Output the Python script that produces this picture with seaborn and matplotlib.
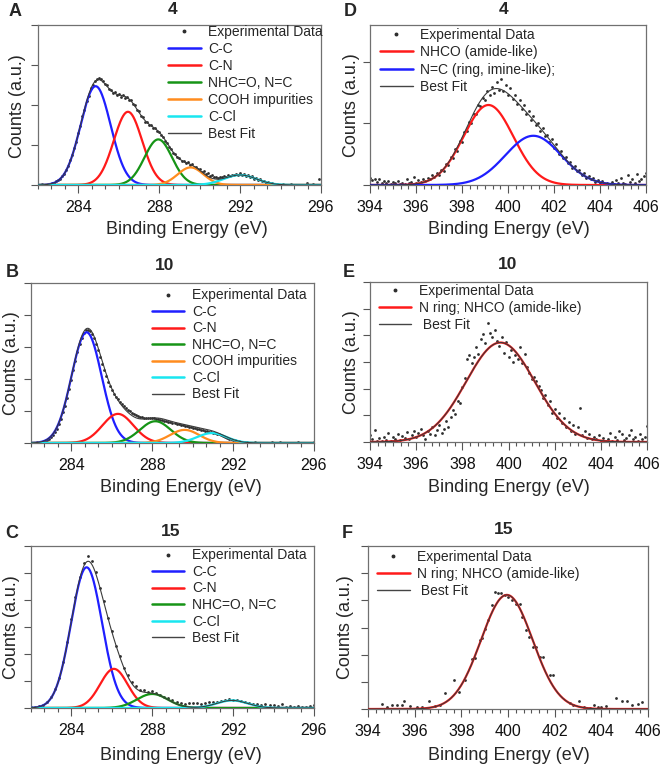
import numpy as np
import matplotlib
matplotlib.use("Agg")
import matplotlib.pyplot as plt
from matplotlib.ticker import MultipleLocator
from matplotlib.lines import Line2D
import seaborn as sns

sns.set_theme(style="white")
plt.rcParams['font.family'] = ['Liberation Sans', 'DejaVu Sans']

W, H = 664, 767
fig = plt.figure(figsize=(W / 100, H / 100), dpi=100)

BLUE, RED, GREEN, ORANGE, CYAN = "#1f1fff", "#ff1a1a", "#169416", "#ff8c1e", "#19e6f0"
FIT, DOT = "#3a3a3a", "#2e2e2e"

# ---------------- peak fit parameters ----------------
A_labels = ["C-C", "C-N", "NHC=O, N=C", "COOH impurities", "C-Cl"]
A_centers = [284.85, 286.45, 287.95, 289.55, 292.0]
A_heights = [2.47, 1.83, 1.14, 0.44, 0.25]
A_fwhm = [1.75, 1.65, 1.6, 1.5, 1.9]

B_labels = ["C-C", "C-N", "NHC=O, N=C", "COOH impurities", "C-Cl"]
B_centers = [284.75, 286.3, 288.15, 289.6, 290.95]
B_heights = [3.46, 0.91, 0.68, 0.41, 0.31]
B_fwhm = [1.75, 1.8, 1.8, 1.7, 1.7]

C_labels = ["C-C", "C-N", "NHC=O, N=C", "C-Cl"]
C_centers = [284.75, 286.1, 288.0, 291.95]
C_heights = [5.21, 1.45, 0.52, 0.28]
C_fwhm = [1.8, 1.6, 1.8, 1.8]

D_labels = ["NHCO (amide-like)", "N=C (ring, imine-like);"]
D_centers = [399.15, 401.1]
D_heights = [1.30, 0.80]
D_fwhm = [2.55, 2.85]

E_labels = ["N ring; NHCO (amide-like)"]
E_centers = [399.65]
E_heights = [3.73]
E_fwhm = [3.5]

F_labels = ["N ring; NHCO (amide-like)"]
F_centers = [399.95]
F_heights = [4.2]
F_fwhm = [2.6]

A_exp_start, A_exp_step = 282.2, 0.1
A_exp_y = [0.02, -0.01, 0.01, 0.03, 0.02, 0.05, 0.05, 0.09, 0.12, 0.15,
           0.22, 0.28, 0.38, 0.47, 0.62, 0.74, 0.93, 1.08, 1.31, 1.48,
           1.72, 1.88, 2.10, 2.22, 2.42, 2.50, 2.60, 2.66, 2.68, 2.66,
           2.61, 2.52, 2.50, 2.40, 2.38, 2.30, 2.32, 2.25, 2.28, 2.21,
           2.25, 2.17, 2.20, 2.12, 2.12, 2.03, 1.99, 1.88, 1.84, 1.72,
           1.70, 1.58, 1.58, 1.50, 1.50, 1.42, 1.43, 1.35, 1.33, 1.24,
           1.21, 1.10, 1.06, 0.95, 0.90, 0.80, 0.78, 0.69, 0.68, 0.61,
           0.61, 0.55, 0.57, 0.50, 0.52, 0.45, 0.46, 0.39, 0.40, 0.33,
           0.34, 0.28, 0.29, 0.23, 0.25, 0.20, 0.21, 0.18, 0.21, 0.19,
           0.22, 0.21, 0.25, 0.23, 0.26, 0.25, 0.28, 0.25, 0.29, 0.24,
           0.27, 0.22, 0.25, 0.19, 0.22, 0.16, 0.18, 0.12, 0.15, 0.09,
           0.11, 0.06, 0.08, 0.04, 0.05, 0.02, 0.03]
A_tail_x = [294.1, 294.5, 294.9, 295.3, 295.6, 295.9]
A_tail_y = [0.02, 0.03, 0.01, 0.04, 0.02, 0.15]

B_exp_start, B_exp_step = 282.2, 0.1
B_exp_y = [0.01, 0.02, 0.01, 0.03, 0.04, 0.06, 0.09, 0.12, 0.18, 0.25,
           0.34, 0.45, 0.60, 0.76, 0.96, 1.17, 1.42, 1.70, 1.98, 2.27,
           2.56, 2.84, 3.08, 3.28, 3.43, 3.52, 3.54, 3.50, 3.40, 3.27,
           3.10, 2.90, 2.70, 2.48, 2.28, 2.08, 1.92, 1.78, 1.65, 1.53,
           1.44, 1.36, 1.28, 1.21, 1.15, 1.09, 1.03, 0.99, 0.94, 0.90,
           0.86, 0.83, 0.80, 0.80, 0.78, 0.79, 0.77, 0.79, 0.77, 0.78,
           0.75, 0.76, 0.72, 0.72, 0.69, 0.68, 0.65, 0.65, 0.62, 0.62,
           0.58, 0.58, 0.55, 0.56, 0.52, 0.53, 0.50, 0.50, 0.47, 0.47,
           0.44, 0.44, 0.41, 0.41, 0.38, 0.38, 0.35, 0.35, 0.32, 0.31,
           0.28, 0.27, 0.24, 0.22, 0.19, 0.17, 0.14, 0.12, 0.10, 0.08,
           0.06, 0.05, 0.04, 0.03, 0.02, 0.02, 0.01]
B_tail_x = [293.1, 293.5, 293.9, 294.3, 294.8, 295.2, 295.7, 296.0]
B_tail_y = [0.02, 0.01, 0.03, 0.02, 0.01, 0.02, 0.01, 0.02]

C_exp_start, C_exp_step = 282.0, 0.2
C_exp_y = [0.02, 0.05, 0.08, 0.12, 0.22, 0.40, 0.70, 1.12, 1.72, 2.45,
           3.30, 4.10, 4.85, 5.38, 5.62, 5.45, 5.05, 4.45, 3.95, 3.32,
           2.85, 2.30, 1.92, 1.50, 1.22, 0.95, 0.80, 0.68, 0.66, 0.60,
           0.62, 0.55, 0.50, 0.42, 0.36, 0.28, 0.24, 0.20, 0.15, 0.18,
           0.17, 0.19, 0.16, 0.20, 0.21, 0.22, 0.24, 0.27, 0.29, 0.32,
           0.30, 0.29, 0.25, 0.22, 0.19, 0.15, 0.16, 0.12, 0.14, 0.10,
           0.12, 0.08, 0.13, 0.05, 0.09, 0.04, 0.06, 0.03, 0.05, 0.08,
           0.10]

D_exp_start, D_exp_step = 394.0, 0.1
D_exp_y = [0.12, 0.08, 0.10, 0.05, 0.09, 0.04, 0.07, 0.03, 0.06, 0.02,
           0.05, 0.03, 0.07, 0.02, 0.04, 0.01, 0.09, 0.03, 0.05, 0.13,
           0.04, 0.08, 0.05, 0.09, 0.06, 0.12, 0.10, 0.16, 0.13, 0.19,
           0.17, 0.25, 0.22, 0.34, 0.33, 0.45, 0.44, 0.58, 0.55, 0.72,
           0.70, 0.86, 0.88, 1.02, 1.00, 1.16, 1.15, 1.30, 1.28, 1.42,
           1.38, 1.52, 1.46, 1.60, 1.50, 1.68, 1.55, 1.72, 1.52, 1.62,
           1.47, 1.58, 1.40, 1.46, 1.32, 1.38, 1.24, 1.30, 1.15, 1.21,
           1.05, 1.12, 0.98, 1.01, 0.88, 0.92, 0.80, 0.82, 0.70, 0.74,
           0.60, 0.66, 0.51, 0.55, 0.44, 0.45, 0.36, 0.38, 0.28, 0.31,
           0.22, 0.24, 0.17, 0.20, 0.12, 0.15, 0.09, 0.12, 0.05, 0.08,
           0.03, 0.06, 0.02, 0.04, 0.01, 0.05, 0.02, 0.08, 0.03, 0.11,
           0.04, 0.02, 0.16, 0.05, 0.09, 0.03, 0.18, 0.06, 0.10, 0.14,
           0.20]

E_exp_start, E_exp_step = 394.0, 0.1
E_exp_y = [0.25, 0.10, 0.45, 0.05, 0.15, 0.02, 0.20, 0.08, 0.35, 0.05,
           0.18, 0.12, 0.30, 0.06, 0.22, 0.15, 0.38, 0.10, 0.28, 0.42,
           0.20, 0.35, 0.48, 0.25, 0.12, 0.40, 0.30, 0.55, 0.28, 0.45,
           0.62, 0.35, 0.50, 0.78, 0.55, 0.95, 1.20, 1.05, 1.55, 1.45,
           2.05, 2.40, 3.10, 3.25, 2.95, 3.20, 3.55, 3.30, 3.85, 4.05,
           3.70, 4.47, 4.10, 3.95, 4.20, 3.80, 3.60, 3.95, 3.35, 3.75,
           3.20, 3.45, 3.00, 3.25, 3.10, 3.55, 2.95, 3.30, 2.80, 2.60,
           2.35, 2.45, 2.30, 2.10, 1.95, 1.65, 1.75, 1.40, 1.55, 1.10,
           1.25, 0.90, 1.10, 0.70, 0.90, 0.55, 0.75, 0.40, 0.65, 0.30,
           0.55, 1.26, 0.25, 0.40, 0.15, 0.30, 0.10, 0.20, 0.12, 0.25,
           0.05, 0.15, 0.02, 0.10, 0.35, 0.05, 0.20, 0.08, 0.40, 0.30,
           0.06, 0.15, 0.25, 0.45, 0.10, 0.20, 0.05, 0.30, 0.12, 0.18,
           0.60]

F_exp_x = [394.62, 394.83, 395.04, 395.26, 395.47, 395.54, 395.82, 396.11, 396.32, 396.60,
           396.89, 397.10, 397.31, 397.67, 397.88, 398.16, 398.45, 398.59, 398.80, 398.87,
           399.01, 399.16, 399.30, 399.44, 399.58, 399.72, 399.87, 400.01, 400.15, 400.36,
           400.50, 400.62, 400.76, 400.90, 401.05, 401.20, 401.35, 401.50, 401.78, 401.93,
           402.65, 402.80, 403.05, 403.27, 403.50, 403.69, 403.84, 403.98, 404.19, 404.62,
           404.90, 405.12, 405.33, 405.55, 405.76]
F_exp_y = [0.18, 0.09, 0.15, 0.15, 0.15, 0.31, 0.11, 0.09, 0.09, 0.31,
           0.11, 0.15, 0.58, 1.07, 0.64, 1.07, 1.83, 1.87, 2.55, 2.61,
           2.94, 3.28, 3.81, 4.30, 4.27, 4.27, 4.21, 4.12, 4.00, 3.86,
           3.86, 3.37, 2.90, 2.65, 2.30, 2.30, 1.90, 1.90, 1.25, 1.25,
           0.23, 0.16, 0.31, 0.09, 0.05, 0.15, 0.09, 0.09, 0.11, 0.39,
           0.31, 0.31, 0.15, 0.18, 0.27]


def grid(start, step, ys):
    return np.round(start + step * np.arange(len(ys)), 3)


def gauss(x, c, h, w):
    return h * np.exp(-4 * np.log(2) * (x - c) ** 2 / w ** 2)


def add_axes(l, r, t, b):
    return fig.add_axes([l / W, 1 - b / H, (r - l) / W, (b - t) / H])


def style(ax, xlim, ylim, xmaj, xmin):
    ax.set_xlim(*xlim)
    ax.set_ylim(*ylim)
    ax.xaxis.set_major_locator(MultipleLocator(xmaj))
    ax.xaxis.set_minor_locator(MultipleLocator(xmin))
    ax.yaxis.set_major_locator(MultipleLocator(1))
    ax.tick_params(axis='x', which='major', direction='out', length=5.5, width=0.8,
                   color='#555555', labelsize=11.5, pad=5.5, bottom=True, labelcolor='#111111')
    ax.tick_params(axis='x', which='minor', direction='out', length=3, width=0.8,
                   color='#555555', bottom=True)
    ax.tick_params(axis='y', which='major', direction='out', length=5, width=0.8,
                   color='#555555', labelleft=False, left=True)
    for s in ax.spines.values():
        s.set_color('#707070')
        s.set_linewidth(0.9)
    ax.set_xlabel("")
    ax.set_ylabel("")


def draw(ax, xs_exp, ys_exp, labels, cs, hs, ws, colors, xlim):
    sns.scatterplot(x=xs_exp, y=ys_exp, ax=ax, s=4, color=DOT, linewidth=0, legend=False, zorder=2)
    xs = np.linspace(xlim[0], xlim[1], 700)
    total = np.zeros_like(xs)
    for c, h, w, col in zip(cs, hs, ws, colors):
        comp = gauss(xs, c, h, w)
        total += comp
        sns.lineplot(x=xs, y=comp, ax=ax, color=col, lw=1.6, zorder=3)
    sns.lineplot(x=xs, y=total, ax=ax, color=FIT, lw=0.8, zorder=4)


def legend(ax, labels, colors, left_px, top_px, spacing, best=" Best Fit"):
    handles = [Line2D([], [], marker='o', ls='', ms=1.8, color=DOT)]
    handles += [Line2D([], [], color=c, lw=1.8) for c in colors]
    handles += [Line2D([], [], color='#444444', lw=1.0)]
    labs = ["Experimental Data"] + labels + [best]
    ax.legend(handles, labs, loc='upper left', bbox_to_anchor=(left_px / W, 1 - top_px / H),
              bbox_transform=fig.transFigure, frameon=False, fontsize=10, handlelength=2.35,
              handletextpad=0.55, labelspacing=spacing, borderpad=0, borderaxespad=0)


def texts(title, tx, ty, letter, lx, ly, xl_x, xl_y, yl_x, yl_y):
    fig.text(tx / W, 1 - ty / H, title, fontsize=12.5, fontweight='bold', ha='center', va='center')
    fig.text(lx / W, 1 - ly / H, letter, fontsize=13, fontweight='bold', ha='center', va='center')
    fig.text(xl_x / W, 1 - xl_y / H, "Binding Energy (eV)", fontsize=13, ha='center', va='center')
    fig.text(yl_x / W, 1 - yl_y / H, "Counts (a.u.)", fontsize=13, ha='center', va='center',
             rotation=90)


c5 = [BLUE, RED, GREEN, ORANGE, CYAN]

# A
axA = add_axes(38, 321, 25, 185)
xA = np.concatenate([grid(A_exp_start, A_exp_step, A_exp_y), A_tail_x])
yA = np.concatenate([A_exp_y, A_tail_y])
draw(axA, xA, yA, A_labels, A_centers, A_heights, A_fwhm, c5, (282, 296))
style(axA, (282, 296), (0, 4), 4, 4 / 6)
legend(axA, A_labels, c5, 168, 25, 0.21, "Best Fit")
texts("4", 173, 10, "A", 15, 12, 187, 230, 18, 106)

# B
axB = add_axes(31, 314, 283, 443)
xB = np.concatenate([grid(B_exp_start, B_exp_step, B_exp_y), B_tail_x])
yB = np.concatenate([B_exp_y, B_tail_y])
draw(axB, xB, yB, B_labels, B_centers, B_heights, B_fwhm, c5, (282, 296))
style(axB, (282, 296), (0, 5), 4, 4 / 6)
legend(axB, B_labels, c5, 151.7, 288.5, 0.18, "Best Fit")
texts("10", 165, 266, "B", 12.5, 272, 181, 488, 12, 363)

# C
c4 = [BLUE, RED, GREEN, CYAN]
axC = add_axes(31, 314, 546, 708)
draw(axC, grid(C_exp_start, C_exp_step, C_exp_y), C_exp_y, C_labels, C_centers, C_heights,
     C_fwhm, c4, (282, 296))
style(axC, (282, 296), (0, 6), 4, 4 / 6)
legend(axC, C_labels, c4, 151.7, 548.5, 0.18, "Best Fit")
texts("15", 171, 531, "C", 12, 533, 181, 755, 12, 627)

# D
axD = add_axes(370, 646, 25, 185)
draw(axD, grid(D_exp_start, D_exp_step, D_exp_y), D_exp_y, D_labels, D_centers, D_heights,
     D_fwhm, [RED, BLUE], (394, 406))
style(axD, (394, 406), (0, 2.6), 2, 2 / 6)
legend(axD, D_labels, [RED, BLUE], 380, 28, 0.24, "Best Fit")
texts("4", 504, 10, "D", 350, 12, 509, 230, 351, 105)

# E
axE = add_axes(370, 647, 282, 442)
draw(axE, grid(E_exp_start, E_exp_step, E_exp_y), E_exp_y, E_labels, E_centers, E_heights,
     E_fwhm, [RED], (394, 406))
style(axE, (394, 406), (0, 6), 2, 2 / 6)
legend(axE, E_labels, [RED], 378.7, 284, 0.21)
texts("10", 508, 265, "E", 349, 273, 509, 488, 351, 362)

# F
axF = add_axes(368, 648, 546, 709)
draw(axF, F_exp_x, F_exp_y, F_labels, F_centers, F_heights, F_fwhm, [RED], (394, 406))
style(axF, (394, 406), (0, 6), 2, 2 / 6)
legend(axF, F_labels, [RED], 377, 550, 0.21)
texts("15", 504, 529, "F", 347, 533, 509, 755, 346, 627)

fig.savefig("out.png", dpi=100)
